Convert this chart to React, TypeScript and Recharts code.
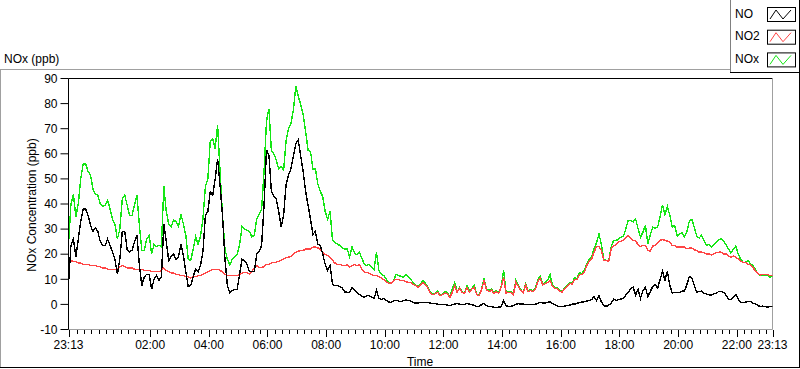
import React from 'react';
import { LineChart, Line, XAxis, YAxis, ReferenceLine, Legend } from 'recharts';

const FONT = '"Liberation Sans", Arial, sans-serif';

// one sample every 5 minutes, starting 23:13
const STEP_MIN = 5;

const NOX = [
  24, 40, 44, 35, 40, 50, 56, 56, 53, 51.5,
  46, 44, 43.5, 40, 39, 39.5, 41.5, 38, 34, 32,
  26, 30, 42, 43.5, 39.5, 35.5, 35.5, 39.5, 43.5, 31.5,
  21.5, 21.5, 26, 27.5, 20, 24, 23, 23.5, 23, 47,
  37, 32, 31, 33.5, 33, 31, 36, 32, 27.5, 18,
  17.5, 22, 27, 24, 27, 34, 47, 50, 65, 66,
  62, 71.5, 53, 35.5, 22, 18, 15.7, 18, 19, 20,
  24,
  31, 30, 29.5, 29, 27, 27.5, 34, 36, 38,
  53, 73, 78, 61, 60, 57.5, 54, 55, 53.5, 65,
  70, 72, 77.5, 87, 83, 79.5, 75.5, 69, 61.5, 61,
  54, 54, 48, 45, 43, 37, 34, 37, 25.5, 24.5,
  24, 23.5, 22.5, 22, 22, 19, 23, 20.5, 19.7, 20.8,
  18.4, 16, 15.5, 16, 14.8, 14, 20.8, 13.5, 12, 11.5,
  10, 8.5, 8.4, 9.5, 12, 11.5, 11.2, 10.8, 11.9, 11.2,
  9.9, 8.8, 7.7, 7.5, 8,
  9.5, 8.5, 6.8, 4.8, 4.1,
  4.5, 5.5, 3.7, 4.1, 5, 4.8, 2.9, 6.1, 8.8, 5,
  6.8, 5, 4.5, 7.5, 5.5, 6.4, 7.5, 4.1, 3.7, 6.1,
  10.4, 6.1, 5.5, 6.1, 4.8, 5.5, 4.8, 7.2, 13.5, 4.8,
  5, 5, 4.1, 9.5, 7.5, 5.9, 4.8, 8.1, 5.5, 5.9,
  5.3, 6.4, 9.9, 11.2, 8.1, 8.8, 9.5, 11.9, 7.5, 6.8,
  6.5, 5.5, 5.2, 6.8, 7.5, 8.8, 8.4, 10.5, 10.4, 12.5,
  12.4, 13.5, 16.1, 17.9, 19.1, 22.1, 24.5, 28, 24,
  18.1, 17.5, 17.5, 22.8, 25.5, 25.5, 25.9, 26.8, 27.1, 30.1, 33.5,
  33.5, 32.8, 34.1, 30.1, 26.8, 28.8, 31.5, 24.1, 27.7, 30.8,
  30.4, 30.8, 34.8, 39.7, 35.7, 39, 35.5, 30.8, 31.5, 27.2,
  28, 28.5, 26.9, 29.2, 33.2, 33.9, 30.8, 27.2, 26.5, 27.5,
  25.5, 23.5, 23.9, 22.8, 23.9, 24.7, 25.7, 26.1, 25.2, 23.7,
  22, 20.5, 21.9, 23.2, 20, 17.9, 16.8, 16.8, 17.5, 16.1,
  15.5, 13.9, 12.4, 11.5, 11.5, 11.5, 11.7, 10.8, 11.2,
];

const NO = [
  8, 23.5, 26, 19, 26, 33, 38, 38, 35.5, 31.5,
  29, 30.5, 29, 25, 23.5, 23.5, 26, 23.5, 21, 18,
  12, 18, 29, 29, 22, 21, 21.5, 25, 27.5, 15.5,
  7.5, 11, 12, 12, 6, 10, 11.5, 9.5, 11, 32,
  25, 17.5, 19, 20, 18, 19, 24, 19.5, 13, 7,
  7.5, 11, 14, 13, 15.5, 21, 35.5, 37, 45, 43.5,
  50, 58, 47.5, 35.5, 18, 7.5, 4.5, 5.5, 6, 6,
  12,
  18, 17.5, 16, 13, 13, 13, 20, 21, 23.5,
  39.5, 61.5, 59.5, 45, 43, 42, 37, 31, 35.5, 47.5,
  51.5, 54, 59, 64, 65.5, 59, 53, 45, 39.5, 34,
  28, 29, 24, 23.5, 20, 16, 13.5, 15.5, 8, 7.5,
  7.5, 7, 6.5, 5, 4.8, 4.8, 6.8, 5.5, 4.8, 4,
  3.2, 2.8, 3.5, 3.5, 2.8, 2.4, 5.5, 2.5, 2, 2.4,
  1.6, 1, 0.8, 1.5, 1.7, 1.3, 1, 1.5, 1.7, 1.6,
  1.3, 0.8, 0.5, 0.5, 0.8,
  0.8, 0.8, 0.7, 0.5, 0.4,
  0.3, 0.1, 0, -0.1, -0.1, -0.3, -0.5, -0.1, 0.1, 0.4,
  0.1, 0, -0.1, 0.4, 0.1, 0, -0.5, -0.9, -0.7, -0.1,
  0.5, -0.5, -0.8, -0.9, -1.1, -1.2, -1.1, -0.9, 1.5, -0.5,
  -0.9, -0.8, -0.5, 0.1, 0.3, 0.1, 0.1, 0, -0.1, -0.1,
  0, 0.1, 0.4, 0.8, 0.5, 0.5, 0.8, 1.1, 0.3, -0.1,
  -0.7, -0.9, -0.8, -0.7, -0.5, -0.3, 0.1, 0.1, 0.4, 0.8,
  0.9, 1.1, 1.3, 1.5, 1.9, 3.2, 1.5, 3.5, 1,
  -0.5, -0.8, -0.3, 0.4, 2.1, 1.5, 1.9, 2.1, 2.4, 3.7, 4.8,
  6.4, 6.8, 3.7, 6.1, 2.4, 5.5, 6.8, 3.2, 5.1, 7.1,
  8, 6.5, 9.9, 13.2, 9.7, 13.1, 7.5, 4.5, 4.8, 4.8,
  4.8, 5.3, 5.3, 8, 11.1, 10.5, 7.5, 4.9, 5.1, 5.3,
  4.5, 4.1, 3.9, 3.6, 4.3, 4.3, 5.2, 5.2, 4.8, 3.7,
  1.9, 1.9, 3.1, 4, 2, 0.9, 0.8, 0.9, 1.1, 1.2,
  0.4, 0.3, -0.5, -0.8, -0.7, -0.8, -1.1, -0.9, -0.9,
];

const NO2 = [
  17.5, 17.5, 17, 17, 16.5, 16.5, 16, 16, 16, 15.5,
  15.5, 15.5, 15, 15, 14.5, 14.5, 14, 14, 14, 14,
  14, 15, 15.5, 15, 14.5, 14.5, 14.5, 14, 14, 14,
  14, 13.5, 13.5, 13.5, 13, 13, 13, 13, 13.5, 14.5,
  13.5, 13, 12.5, 12.5, 12, 12, 11.5, 11.5, 11, 11,
  10.5, 11, 11, 11.5, 11.5, 12, 12.5, 13, 13.5, 14,
  14, 14, 13.5, 13, 12, 11.5, 11.5, 11.5, 11.5, 11.5,
  12,
  12.4, 12.8, 12.8, 12, 13, 14.5, 15.5, 14.8, 14.8,
  15, 16, 16, 16.5, 16.8, 16.8, 17.2, 17.7, 18, 18.8,
  18.8, 19.2, 20, 20.8, 21.2, 21.5, 21.5, 22, 22, 22,
  22.8, 22.8, 22.5, 22, 20.8, 20, 19.5, 18.8, 17.5, 16.5,
  16, 16, 15.5, 15.5, 15.8, 15, 15.5, 15.8, 15.5, 15.8,
  14, 12.8, 12.8, 12.4, 11.9, 11.5, 11.5, 11, 10.5, 9.9,
  9, 8.4, 8.5, 9.5, 10, 9.9, 9.5, 9.5, 9, 8.8,
  8.8, 8, 7.5, 6.8, 7.5,
  8.8, 8, 6.4, 4.5, 3.9,
  4.3, 4.8, 3.5, 3.9, 4.5, 4.4, 2.7, 4.8, 7.5, 4.8,
  6.4, 4.8, 4.3, 6.8, 5, 6.1, 6.8, 3.9, 3.5, 5.9,
  9.5, 5.9, 5, 5.7, 4.5, 5, 4.5, 6.8, 10.8, 4.5,
  4.8, 4.8, 3.9, 8.8, 7.2, 5.5, 4.5, 7.7, 5, 5.5,
  5, 6, 9.2, 10.4, 7.7, 8.3, 8.8, 9.5, 7.2, 6.5,
  6.1, 5.2, 4.9, 6.4, 7.1, 8.4, 8, 9.9, 9.9, 11.9,
  11.9, 12.8, 15.5, 17.2, 18.1, 20.8, 23, 23, 21.5,
  17.5, 17.5, 17.1, 22.1, 23.5, 23.7, 24.8, 25.2, 25.5, 26.4, 27.5,
  26.5, 25.5, 25.5, 23.7, 23.1, 23.5, 23.5, 21.7, 21.1, 23.2,
  23.5, 24.5, 25.5, 25.9, 25.5, 25.2, 24.8, 23.5, 23.5, 22.8,
  22.8, 22.9, 22.9, 22.1, 22.5, 22.5, 21.7, 21.5, 20.8, 20.8,
  20.7, 20.1, 20.1, 19.7, 20.1, 20.7, 20.8, 20.8, 20.1, 20.1,
  19.3, 18.8, 19.3, 18.8, 18.1, 17.2, 16.8, 16.7, 16, 15.7,
  14.8, 13.2, 12.3, 11.7, 11.9, 11.9, 11.9, 11.5, 11.5,
];

const Y_TICKS = [-10, 0, 10, 20, 30, 40, 50, 60, 70, 80, 90];
// minutes after 23:13
const X_MAJOR = [0, 167, 287, 407, 527, 647, 767, 887, 1007, 1127, 1247, 1367, 1440];
const X_LABELS = ['23:13', '02:00', '04:00', '06:00', '08:00', '10:00', '12:00', '14:00', '16:00', '18:00', '20:00', '22:00', '23:13'];
const X_MINOR = Array.from({ length: 95 }, (_, i) => 17 + i * 15);
const X_TICKS = Array.from(new Set([...X_MAJOR, ...X_MINOR])).sort((a, b) => a - b);

const SERIES = [
  { key: 'no', name: 'NO', color: '#000000' },
  { key: 'no2', name: 'NO2', color: '#ff4545' },
  { key: 'nox', name: 'NOx', color: '#14e614' },
];

const data = NO.map((v, i) => ({ t: i * STEP_MIN, no: v, no2: NO2[i], nox: NOX[i] }));

const XTick = (props: any) => {
  const { x, payload } = props;
  const idx = X_MAJOR.indexOf(payload.value);
  const px = Math.round(x) + 0.5;
  return (
    <g>
      <line x1={px} x2={px} y1={330} y2={idx >= 0 ? 337 : 334} stroke="#000" />
      {idx >= 0 && (
        <text x={x} y={349} textAnchor="middle" fontSize={12} fontFamily={FONT} fill="#000">
          {X_LABELS[idx]}
        </text>
      )}
    </g>
  );
};

const LegendBox = () => (
  <div style={{ width: 70, height: 72, position: 'relative', fontFamily: FONT, fontSize: 12 }}>
    <svg width={70} height={73} style={{ position: 'absolute', left: 0, top: 0 }}>
      {SERIES.map((s, i) => {
        const by = 7 + i * 22.7;
        return (
          <g key={s.key}>
            <text x={5} y={17.5 + i * 22.7} fontSize={12} fontFamily={FONT} fill="#000">{s.name}</text>
            <rect x={37.5} y={by + 0.5} width={28} height={14} fill="#fff" stroke="#000" />
            <polyline
              points={`${40},${by + 12} ${46},${by + 3} ${53},${by + 12} ${61},${by + 3}`}
              fill="none"
              stroke={s.color}
              strokeWidth={1}
            />
          </g>
        );
      })}
    </svg>
  </div>
);

export default function App() {
  return (
    <div style={{ position: 'absolute', left: 0, top: 0, width: 800, height: 369, background: '#fff' }}>
      <style>{`.recharts-line-curve{shape-rendering:crispEdges}`}</style>
      <LineChart
        width={800}
        height={369}
        data={data}
        margin={{ top: 78.5, right: 27.5, bottom: 0, left: 0.5 }}
      >
        <XAxis
          dataKey="t"
          type="number"
          domain={[0, 1440]}
          ticks={X_TICKS}
          interval={0}
          tickLine={false}
          axisLine={{ stroke: '#a0a0a0' }}
          tick={(p: any) => <XTick {...p} />}
          height={39.5}
          allowDataOverflow
        />
        <YAxis
          type="number"
          domain={[-10, 90]}
          ticks={Y_TICKS}
          interval={0}
          width={68}
          tickSize={8}
          tickMargin={3}
          axisLine={{ stroke: '#000' }}
          tickLine={{ stroke: '#000' }}
          tick={{ fill: '#000', fontSize: 12, fontFamily: FONT }}
          allowDataOverflow
        />
        <ReferenceLine y={90} stroke="#000" />
        <ReferenceLine x={1440} stroke="#a0a0a0" />
        <Line dataKey="nox" name="NOx" stroke="#14e614" strokeWidth={1.4} dot={false} isAnimationActive={false} type="linear" />
        <Line dataKey="no2" name="NO2" stroke="#ff4545" strokeWidth={1.4} dot={false} isAnimationActive={false} type="linear" />
        <Line dataKey="no" name="NO" stroke="#000000" strokeWidth={1.4} dot={false} isAnimationActive={false} type="linear" />
        <Legend
          layout="horizontal"
          verticalAlign="middle"
          align="center"
          content={() => <LegendBox />}
          wrapperStyle={{ position: 'absolute', left: 730, top: 0, width: 70, height: 72 }}
        />
      </LineChart>
      <svg
        width={800}
        height={369}
        style={{ position: 'absolute', left: 0, top: 0, pointerEvents: 'none' }}
      >
        <text x={4} y={63} fontSize={12} fontFamily={FONT} fill="#000">NOx (ppb)</text>
        <line x1={0} x2={730} y1={69.5} y2={69.5} stroke="#a0a0a0" />
        <line x1={0.5} x2={0.5} y1={69} y2={368} stroke="#a0a0a0" />
        <line x1={0} x2={800} y1={367.5} y2={367.5} stroke="#000" />
        <line x1={799.5} x2={799.5} y1={0} y2={368} stroke="#000" />
        <line x1={730.5} x2={730.5} y1={0} y2={73} stroke="#808080" />
        <line x1={730} x2={800} y1={72.5} y2={72.5} stroke="#000" />
        <text x={420} y={366} textAnchor="middle" fontSize={12} fontFamily={FONT} fill="#000">Time</text>
        <text
          x={35.5}
          y={205}
          textAnchor="middle"
          fontSize={12}
          fontFamily={FONT}
          fill="#000"
          transform="rotate(-90 35.5 205)"
        >
          NOx Concentration (ppb)
        </text>
      </svg>
    </div>
  );
}
